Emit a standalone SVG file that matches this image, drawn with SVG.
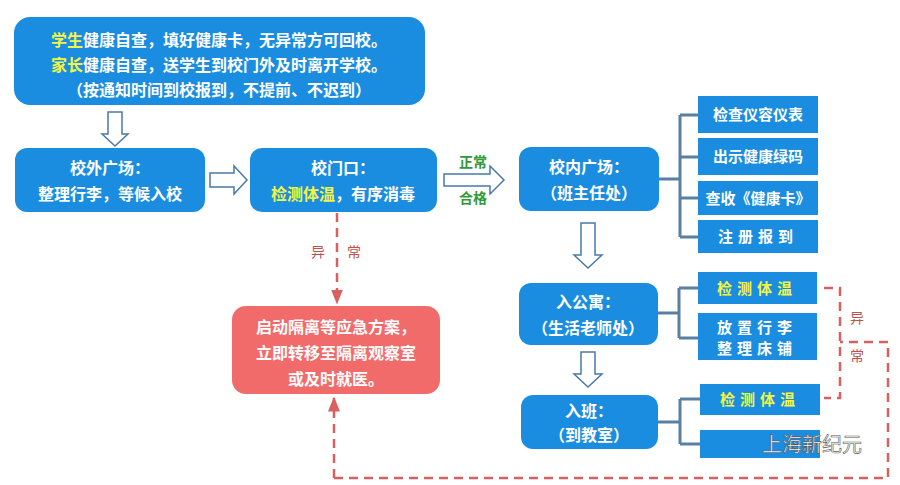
<svg xmlns="http://www.w3.org/2000/svg" width="900" height="485" viewBox="0 0 900 485">
<defs>
<style>
text{font-family:"Noto Sans CJK SC","Noto Sans",sans-serif;text-anchor:middle}
.n{fill:#1a8de0}
.t{fill:#fff;font-size:16px;font-weight:bold}
.s{fill:#fff;font-size:15px;font-weight:bold}
.y{fill:#f2f542}
.hol{fill:#fff;stroke:#4a7aa8;stroke-width:1.5}
.br{fill:none;stroke:#5a7fa3;stroke-width:3}
.dash{fill:none;stroke:#d9605f;stroke-width:2.5;stroke-dasharray:9 6}
.red{fill:#c0504d;font-size:14px}
.grn{fill:#2f9a3a;font-size:14px;font-weight:bold}
</style>
<marker id="ah" viewBox="0 0 10 10" refX="9" refY="5" markerWidth="6" markerHeight="6" orient="auto"><path d="M0,1 L10,5 L0,9z" fill="#d9605f"/></marker>
</defs>
<rect width="900" height="485" fill="#fff"/>
<g id="connectors">
<path class="hol" d="M108,112 h14 v22 h6 l-13,12 l-13,-12 h6z"/>
<path class="hol" d="M210,173 h24 v-7 l13,14 l-13,14 v-7 h-24z"/>
<path class="hol" d="M444,174 h46 v-8 l14,14 l-14,14 v-8 h-46z"/>
<path class="hol" d="M581,223 h14 v32 h7 l-14,13 l-14,-13 h7z"/>
<path class="hol" d="M581,352 h14 v22 h7 l-14,13 l-14,-13 h7z"/>
<path class="br" d="M659,179 H680 M680,115 V237 M680,115 H698 M680,157 H698 M680,198 H698 M680,237 H698"/>
<path class="br" d="M658,313 H679 M679,288 V338 M679,288 H698 M679,338 H698"/>
<path class="br" d="M658,422 H680 M680,399 V444 M680,399 H700 M680,444 H700"/>
<path class="dash" d="M337,213 V303" marker-end="url(#ah)"/>
<path class="dash" d="M334,478 V398" marker-end="url(#ah)"/>
<path class="dash" d="M334,478 H888 V342 H840"/>
<path class="dash" d="M824,288 H840 V398 H824"/>
<text class="red" x="318" y="257">异</text>
<text class="red" x="354" y="257">常</text>
<text class="red" x="857" y="323">异</text>
<text class="red" x="857" y="361">常</text>
<text class="grn" x="473" y="167">正常</text>
<text class="grn" x="473" y="203">合格</text>
</g>
<g id="top"><rect class="n" x="14" y="17" width="411" height="88" rx="16"/>
<text class="t" x="219" y="46"><tspan class="y">学生</tspan>健康自查，填好健康卡，无异常方可回校。</text>
<text class="t" x="219" y="71"><tspan class="y">家长</tspan>健康自查，送学生到校门外及时离开学校。</text>
<text class="t" x="219" y="96">（按通知时间到校报到，不提前、不迟到）</text></g>
<g id="outside"><rect class="n" x="15" y="148" width="190" height="64" rx="12"/>
<text class="t" x="110" y="174">校外广场：</text><text class="t" x="110" y="200">整理行李，等候入校</text></g>
<g id="gate"><rect class="n" x="250" y="148" width="187" height="64" rx="12"/>
<text class="t" x="343" y="174">校门口：</text><text class="t" x="343" y="200"><tspan class="y">检测体温</tspan>，有序消毒</text></g>
<g id="inside"><rect class="n" x="519" y="147" width="140" height="64" rx="12"/>
<text class="t" x="589" y="173">校内广场：</text><text class="t" x="589" y="199">（班主任处）</text></g>
<g id="c1"><rect class="n" x="698" y="96" width="120" height="37"/><text class="s" x="758" y="120">检查仪容仪表</text></g>
<g id="c2"><rect class="n" x="698" y="138" width="120" height="37"/><text class="s" x="758" y="162">出示健康绿码</text></g>
<g id="c3"><rect class="n" x="698" y="181" width="120" height="34"/><text class="s" x="758" y="204">查收《健康卡》</text></g>
<g id="c4"><rect class="n" x="698" y="220" width="120" height="33"/><text class="s" x="758" y="242" letter-spacing="5">注册报到</text></g>
<g id="dorm"><rect class="n" x="519" y="283" width="139" height="62" rx="12"/>
<text class="t" x="588" y="308">入公寓：</text><text class="t" x="588" y="334">（生活老师处）</text></g>
<g id="d1"><rect class="n" x="698" y="272" width="119" height="32"/><text class="s y" x="757" y="294" letter-spacing="5">检测体温</text></g>
<g id="d2"><rect class="n" x="698" y="313" width="119" height="47"/><text class="s" x="757" y="333" letter-spacing="5">放置行李</text><text class="s" x="757" y="354" letter-spacing="5">整理床铺</text></g>
<g id="cls"><rect class="n" x="521" y="395" width="137" height="54" rx="12"/>
<text class="t" x="589" y="417">入班：</text><text class="t" x="589" y="441">（到教室）</text></g>
<g id="e1"><rect class="n" x="700" y="384" width="120" height="31"/><text class="s y" x="760" y="405" letter-spacing="5">检测体温</text></g>
<g id="e2"><rect class="n" x="700" y="430" width="120" height="28"/></g>
<g id="red"><rect x="232" y="306" width="208" height="88" rx="14" fill="#f26b6b"/>
<text class="t" x="336" y="333">启动隔离等应急方案，</text><text class="t" x="336" y="359">立即转移至隔离观察室</text><text class="t" x="336" y="385">或及时就医。</text></g>
<text x="812" y="452" font-size="20" fill="#fff" stroke="#555" stroke-width="0.6">上海新纪元</text>
</svg>
